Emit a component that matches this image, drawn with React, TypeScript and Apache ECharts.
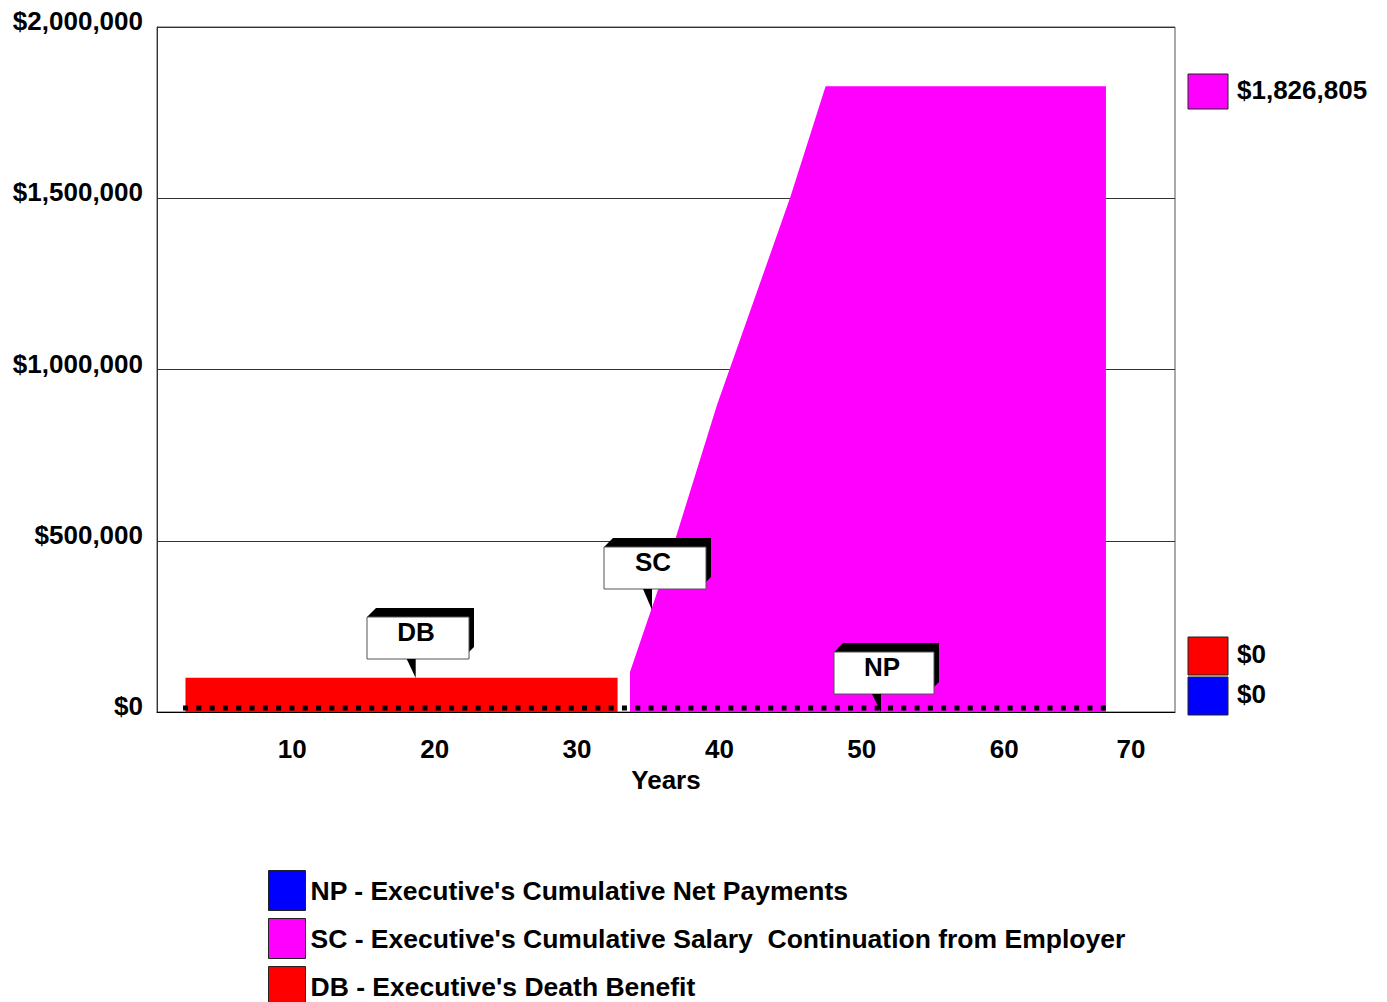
import React, { useEffect, useRef } from 'react';
import * as echarts from 'echarts';

const FONT = '"Liberation Sans", Arial, Helvetica, sans-serif';

// ---- data ----
const xTickYears = [10, 20, 30, 40, 50, 60, 70];
const yTickMin = 0;
const yTickMax = 2000000;
const yTickStep = 500000;

const dbYears = [2.5, 32.85];
const dbValues = [100000, 100000];

const scYears = [33.72, 36.95, 39.83, 44.96, 47.46, 67.15];
const scValues = [116800, 511000, 896000, 1500700, 1826805, 1826805];

const npYears = [2.33, 67.29];
const npValues = [0, 0];

const seriesCodes = ['NP', 'SC', 'DB'];
const seriesNames = [
  "NP - Executive's Cumulative Net Payments",
  "SC - Executive's Cumulative Salary  Continuation from Employer",
  "DB - Executive's Death Benefit",
];
const seriesColors = ['#0000FF', '#FF00FF', '#FF0000'];
// values shown in the right-hand key (SC, DB, NP)
const endLabelValues = [1826805, 0, 0];

const money = (v: number) => '$' + Math.round(v).toLocaleString('en-US');
const pairs = (xs: number[], ys: number[]) => xs.map((x, i) => [x, ys[i]]);

// the zero line of net payments is drawn resting on top of the axis (as in the original),
// so it uses a hidden twin axis lifted by a few pixels' worth of dollars
const npLift = 11500;

function callout(label: string, bx: number, by: number, w: number, h: number, tipX: number, tipY: number) {
  const Z = 100;
  return {
    type: 'group',
    z: Z,
    children: [
      {
        type: 'polygon',
        z: Z,
        shape: {
          points: [
            [bx, by],
            [bx + 9, by - 9],
            [bx + w + 5, by - 9],
            [bx + w + 5, by + h - 12],
            [bx + w, by + h - 7],
          ],
        },
        style: { fill: '#000' },
      },
      {
        type: 'rect',
        z: Z + 1,
        shape: { x: bx, y: by, width: w, height: h },
        style: { fill: '#fff', stroke: '#555', lineWidth: 1 },
      },
      {
        type: 'polygon',
        z: Z + 1,
        shape: { points: [[tipX - 9, by + h], [tipX, by + h], [tipX, tipY]] },
        style: { fill: '#000' },
      },
      {
        type: 'text',
        z: Z + 2,
        x: bx + w / 2 - 2,
        y: by + h / 2 - 6,
        style: {
          text: label,
          fill: '#000',
          font: `bold 26px ${FONT}`,
          align: 'center',
          verticalAlign: 'middle',
        },
      },
    ],
  };
}

function keyItem(color: string, value: number, x: number, y: number, h: number) {
  return {
    type: 'group',
    children: [
      {
        type: 'rect',
        z: 50,
        shape: { x, y, width: 40, height: h },
        style: { fill: color, stroke: '#222', lineWidth: 1 },
      },
      {
        type: 'text',
        z: 50,
        x: x + 49,
        y: y + h / 2 - 2,
        style: {
          text: money(value),
          fill: '#000',
          font: `bold 26px ${FONT}`,
          align: 'left',
          verticalAlign: 'middle',
        },
      },
    ],
  };
}

export default function App() {
  const ref = useRef<HTMLDivElement>(null);

  useEffect(() => {
    if (!ref.current) return;
    const chart = echarts.init(ref.current, undefined, { renderer: 'svg' });

    const option: any = {
      animation: false,
      backgroundColor: '#fff',
      grid: {
        left: 157,
        right: 212,
        top: 27,
        bottom: 290,
        show: true,
        borderColor: '#555',
        borderWidth: 1,
      },
      xAxis: {
        type: 'value',
        min: 0.5,
        max: 72,
        name: 'Years',
        nameLocation: 'middle',
        nameGap: 54,
        nameTextStyle: { fontFamily: FONT, fontWeight: 'bold', fontSize: 26, color: '#000' },
        axisLine: { show: true, lineStyle: { color: '#000', width: 1 } },
        axisTick: { show: false },
        splitLine: { show: false },
        axisLabel: {
          customValues: xTickYears,
          margin: 24,
          formatter: (v: number) =>
            v === xTickYears[xTickYears.length - 1] ? `{last|${v}}` : `{n|${v}}`,
          rich: {
            n: { fontFamily: FONT, fontWeight: 'bold', fontSize: 26, color: '#000' },
            last: {
              fontFamily: FONT,
              fontWeight: 'bold',
              fontSize: 26,
              color: '#000',
              padding: [0, 31, 0, 0],
            },
          },
        },
      },
      yAxis: [
        {
          type: 'value',
          min: yTickMin,
          max: yTickMax,
          interval: yTickStep,
          axisLine: { show: true, lineStyle: { color: '#333', width: 1 } },
          axisTick: { show: false },
          splitLine: { show: true, lineStyle: { color: '#333', width: 1 } },
          axisLabel: {
            margin: 14,
            formatter: (v: number) => money(v),
            fontFamily: FONT,
            fontWeight: 'bold',
            fontSize: 26,
            color: '#000',
            verticalAlign: 'bottom',
            lineHeight: 12,
          },
        },
        {
          type: 'value',
          show: false,
          position: 'left',
          min: yTickMin - npLift,
          max: yTickMax - npLift,
          splitLine: { show: false },
        },
      ],
      legend: {
        orient: 'vertical',
        left: 268,
        top: 870,
        height: 160,
        padding: 0,
        itemWidth: 37,
        itemHeight: 40,
        itemGap: 7,
        selectedMode: false,
        icon: 'rect',
        textStyle: {
          fontFamily: FONT,
          fontWeight: 'bold',
          fontSize: 26.5,
          color: '#000',
        },
        data: seriesNames.map((name, i) => ({
          name,
          icon: 'rect',
          itemStyle: { color: seriesColors[i], borderColor: '#222', borderWidth: 1 },
        })),
      },
      series: [
        {
          name: seriesNames[2],
          type: 'line',
          data: pairs(dbYears, dbValues),
          showSymbol: false,
          symbol: 'none',
          lineStyle: { width: 0, color: seriesColors[2] },
          itemStyle: { color: seriesColors[2] },
          areaStyle: { color: seriesColors[2], opacity: 1 },
          z: 2,
        },
        {
          name: seriesNames[1],
          type: 'line',
          data: pairs(scYears, scValues),
          showSymbol: false,
          symbol: 'none',
          lineStyle: { width: 0, color: seriesColors[1] },
          itemStyle: { color: seriesColors[1] },
          areaStyle: { color: seriesColors[1], opacity: 1 },
          z: 3,
        },
        {
          name: seriesNames[0],
          type: 'line',
          yAxisIndex: 1,
          data: pairs(npYears, npValues),
          clip: false,
          showSymbol: false,
          symbol: 'none',
          lineStyle: { width: 5, color: '#000', type: [5, 8.3], cap: 'butt' },
          itemStyle: { color: seriesColors[0] },
          z: 4,
        },
      ],
      graphic: [
        keyItem(seriesColors[1], endLabelValues[0], 1188, 74, 35),
        keyItem(seriesColors[2], endLabelValues[1], 1188, 637, 38),
        keyItem(seriesColors[0], endLabelValues[2], 1188, 677, 38),
        callout(seriesCodes[2], 367, 617, 102, 42, 415.7, 678),
        callout(seriesCodes[1], 604, 547, 102, 42, 652, 610),
        callout(seriesCodes[0], 834, 652, 100, 42, 881, 712),
      ],
    };

    chart.setOption(option);
    return () => chart.dispose();
  }, []);

  return (
    <div
      ref={ref}
      style={{ position: 'fixed', left: 0, top: 0, width: 1387, height: 1002, background: '#fff' }}
    />
  );
}
